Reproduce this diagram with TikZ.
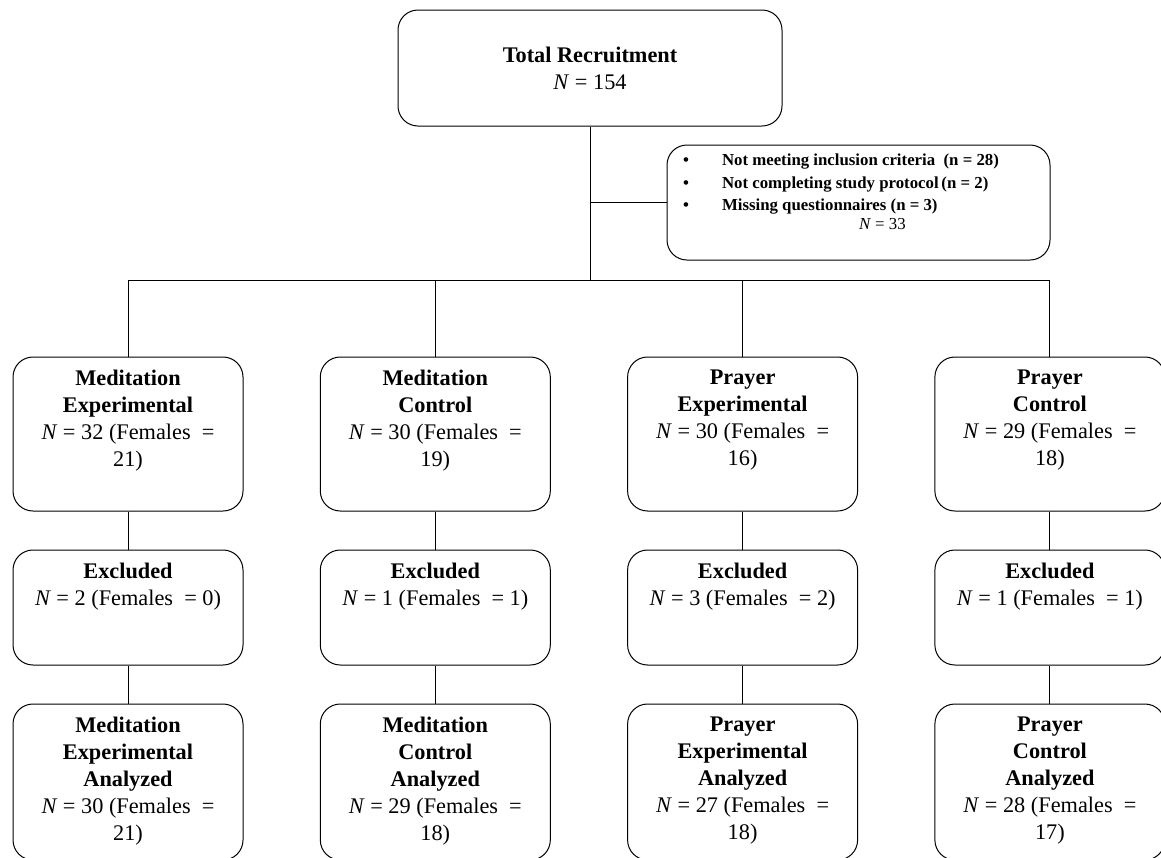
\documentclass[tikz,border=0pt]{standalone}
\usepackage{fontspec}
\setmainfont{Liberation Serif}
\usetikzlibrary{positioning}

% text block held at the top of a box
\newcommand{\topcell}[2]{\parbox[c][#1][t]{204pt}{\centering #2}}

\begin{document}
\begin{tikzpicture} [
						x=1pt, y=-1pt,
						node distance=307.3pt,
						font=\fontsize{22.3}{27}\selectfont,
						box/.style={draw, rounded corners=20pt, line width=1pt, inner xsep=13pt, inner ysep=13pt, minimum width=230pt},
						link/.style={line width=1pt}
					]

\useasboundingbox (0,0) rectangle (1161,857);

\node (total) [box, minimum width=384pt, minimum height=116pt, align=center] at (590,68) {\textbf{Total Recruitment}\\ \textit{N} = 154};
\node (excl) [box, inner xsep=16pt, inner ysep=9pt] at (858.5,202.5) {\parbox[c][97pt][t]{351pt}{\fontsize{16.8}{22.5}\selectfont
	\makebox[39pt][l]{\textbf{\textbullet}}\textbf{Not meeting inclusion criteria\ \ (n = 28)}\\
	\makebox[39pt][l]{\textbf{\textbullet}}\textbf{Not completing study protocol\,(n = 2)}\\
	\makebox[39pt][l]{\textbf{\textbullet}}\textbf{Missing questionnaires (n = 3)}\\[-3.5pt]
	\hspace*{176pt}\textit{N} = 33}};

% first row
\node (me1) [box] at (128,434) {\topcell{128pt}{\textbf{Meditation}\\ \textbf{Experimental}\\ \textit{N} = 32 (Females \ =\\ 21)}};
\node (mc1) [box, right of=me1] {\topcell{128pt}{\textbf{Meditation}\\ \textbf{Control}\\ \textit{N} = 30 (Females \ =\\ 19)}};
\node (pe1) [box, right of=mc1] {\topcell{128pt}{\textbf{Prayer}\\ \textbf{Experimental}\\ \textit{N} = 30 (Females \ =\\ 16)}};
\node (pc1) [box, right of=pe1] {\topcell{128pt}{\textbf{Prayer}\\ \textbf{Control}\\ \textit{N} = 29 (Females \ =\\ 18)}};

% excluded
\node (me2) [box, below of=me1, node distance=173.5pt] {\topcell{89pt}{\textbf{Excluded}\\ \textit{N} = 2 (Females \ = 0)}};
\node (mc2) [box, below of=mc1, node distance=173.5pt] {\topcell{89pt}{\textbf{Excluded}\\ \textit{N} = 1 (Females \ = 1)}};
\node (pe2) [box, below of=pe1, node distance=173.5pt] {\topcell{89pt}{\textbf{Excluded}\\ \textit{N} = 3 (Females \ = 2)}};
\node (pc2) [box, below of=pc1, node distance=173.5pt] {\topcell{89pt}{\textbf{Excluded}\\ \textit{N} = 1 (Females \ = 1)}};

% analyzed
\node (me3) [box, below of=me2, node distance=174.5pt] {\topcell{130pt}{\textbf{Meditation}\\ \textbf{Experimental}\\ \textbf{Analyzed}\\ \textit{N} = 30 (Females \ =\\ 21)}};
\node (mc3) [box, below of=mc2, node distance=174.5pt] {\topcell{130pt}{\textbf{Meditation}\\ \textbf{Control}\\ \textbf{Analyzed}\\ \textit{N} = 29 (Females \ =\\ 18)}};
\node (pe3) [box, below of=pe2, node distance=174.5pt] {\topcell{130pt}{\textbf{Prayer}\\ \textbf{Experimental}\\ \textbf{Analyzed}\\ \textit{N} = 27 (Females \ =\\ 18)}};
\node (pc3) [box, below of=pc2, node distance=174.5pt] {\topcell{130pt}{\textbf{Prayer}\\ \textbf{Control}\\ \textbf{Analyzed}\\ \textit{N} = 28 (Females \ =\\ 17)}};

\coordinate (split) at (590,280);
\coordinate (branch) at (total.south |- excl.west);

\draw[link] (total) -- (split);
\draw[link] (branch) -- (excl);
\draw[link] (split) -| (me1);
\draw[link] (split) -| (mc1);
\draw[link] (split) -| (pe1);
\draw[link] (split) -| (pc1);

\draw[link] (me1) -- (me2);
\draw[link] (mc1) -- (mc2);
\draw[link] (pe1) -- (pe2);
\draw[link] (pc1) -- (pc2);
\draw[link] (me2) -- (me3);
\draw[link] (mc2) -- (mc3);
\draw[link] (pe2) -- (pe3);
\draw[link] (pc2) -- (pc3);
\end{tikzpicture}
\end{document}
